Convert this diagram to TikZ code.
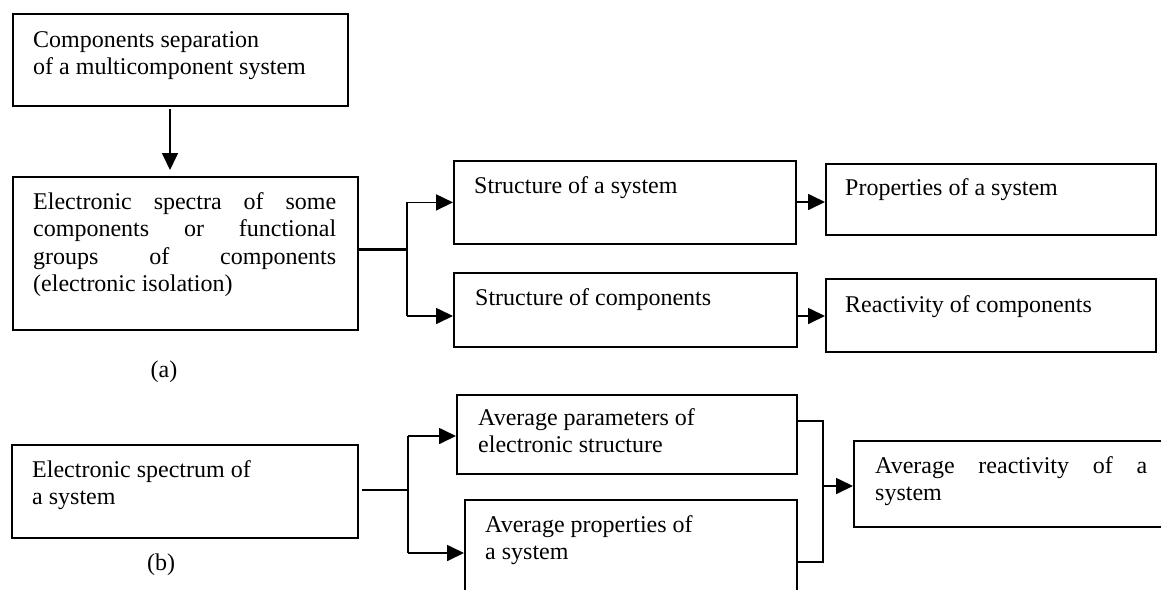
\documentclass[tikz,border=0pt]{standalone}
\usepackage{fontspec}
\setmainfont{Liberation Serif}
\usetikzlibrary{arrows.meta,calc}
\tikzset{
  box/.style={draw, line width=1.8pt, inner sep=0pt, anchor=north west},
  txt/.style={inner sep=0pt, anchor=base west, font=\fontsize{24}{27.5}\selectfont},
  lbl/.style={inner sep=0pt, anchor=base, font=\fontsize{24}{27.5}\selectfont},
  conn/.style={line width=1.7pt},
  thickconn/.style={line width=3pt},
  arr/.style={line width=1.7pt, -{Triangle[length=17pt,width=16pt]}},
}
\newcommand{\lines}[1]{\begin{tabular}[t]{@{}l@{}}#1\end{tabular}}
\begin{document}
\begin{tikzpicture}[x=1pt,y=-1pt]
\clip (0,0) rectangle (1161,589);
\fill[white] (0,0) rectangle (1161,589);
% boxes
\node[box, minimum width=335pt, minimum height=92pt] (A) at (12,13) {};
\node[box, minimum width=345pt, minimum height=153pt] (B) at (12,176) {};
\node[box, minimum width=342pt, minimum height=83pt] (SS) at (453,160) {};
\node[box, minimum width=343pt, minimum height=74pt] (SC) at (453,272) {};
\node[box, minimum width=330pt, minimum height=71pt] (PS) at (825,163) {};
\node[box, minimum width=330pt, minimum height=73pt] (RC) at (825,278) {};
\node[box, minimum width=346pt, minimum height=93pt] (EB) at (11,444) {};
\node[box, minimum width=340pt, minimum height=79pt] (APE) at (456,394) {};
\node[box, minimum width=332pt, minimum height=110pt] (APS) at (464,499) {};
\node[box, minimum width=340pt, minimum height=86pt] (ARS) at (853,440) {};
% texts
\node[txt] (At) at (33,47) {\lines{Components separation\\of a multicomponent system}};
\node[txt] (Bt) at (33,209) {\lines{\makebox[303pt][s]{Electronic spectra of some}\\
  \makebox[303pt][s]{components or functional}\\
  \makebox[303pt][s]{groups of components}\\
  (electronic isolation)}};
\node[txt] (SSt) at (474,193) {Structure of a system};
\node[txt] (SCt) at (475,305) {Structure of components};
\node[txt] (PSt) at (845,195) {Properties of a system};
\node[txt] (RCt) at (845,312) {Reactivity of components};
\node[lbl] (la) at (164,377) {(a)};
\node[txt] (EBt) at (32,477) {\lines{Electronic spectrum of\\a system}};
\node[lbl] (lb) at (161,570) {(b)};
\node[txt] (APEt) at (478,425) {\lines{Average parameters of\\electronic structure}};
\node[txt] (APSt) at (485,532) {\lines{Average properties of\\a system}};
\node[txt] (ARSt) at (875,473) {\lines{\makebox[272pt][s]{Average reactivity of a}\\system}};
% connectors (a)
\draw[arr] ($(A.south west)+(158,2)$) -- ($(B.north west)+(158,-6)$);
\coordinate (j1) at (407,249);
\draw[thickconn] (B.east |- j1) -- (j1);
\draw[conn] (j1 |- SS.west) -- (j1 |- 0,316);
\draw[arr] (j1 |- SS.west) -- (SS.west);
\draw[arr] (j1 |- 0,316) -- (SC.west |- 0,316);
\draw[arr] (SS.east |- 0,202) -- (PS.west |- 0,202);
\draw[arr] (SC.east |- 0,316) -- (RC.west |- 0,316);
% connectors (b)
\coordinate (j2) at (408,490);
\draw[conn] (362,490) -- (j2);
\draw[conn] (408,436) -- (408,553);
\draw[arr] (408,436) -- (APE.west |- 0,436);
\draw[arr] (408,553) -- (APS.west |- 0,553);
\coordinate (j3) at (823,486);
\draw[conn] (APE.east |- 0,421) -| (823,562) -- (APS.east |- 0,562);
\draw[arr] (j3) -- (ARS.west |- j3);
\end{tikzpicture}
\end{document}
